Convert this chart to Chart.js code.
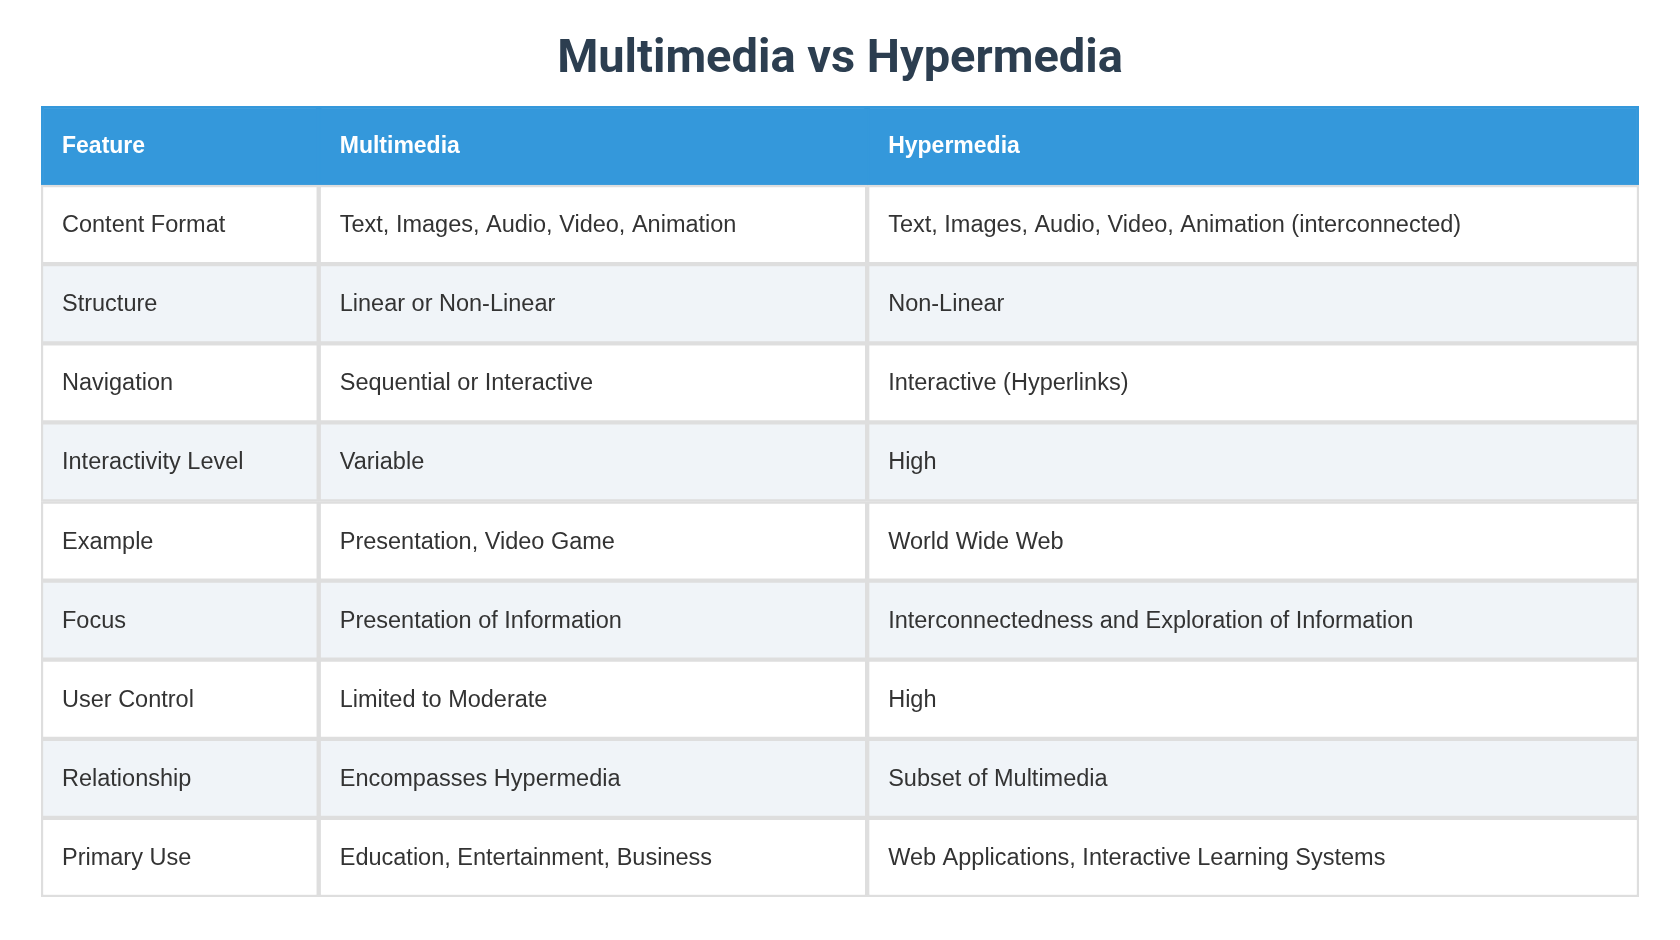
<!DOCTYPE html>
<html>
<head>
<meta charset="utf-8">
<script src="https://cdn.jsdelivr.net/npm/chart.js@4/dist/chart.umd.min.js"></script>
<style>
  html, body { margin: 0; padding: 0; background: #fff; }
  #wrap { width: 1680px; height: 940px; position: relative; }
</style>
</head>
<body>
<div id="wrap"><canvas id="tableChart"></canvas></div>
<script>
const chartTitle = "Multimedia vs Hypermedia";
const headers = ["Feature", "Multimedia", "Hypermedia"];
const features = ["Content Format", "Structure", "Navigation", "Interactivity Level", "Example", "Focus", "User Control", "Relationship", "Primary Use"];
const multimedia = ["Text, Images, Audio, Video, Animation", "Linear or Non-Linear", "Sequential or Interactive", "Variable", "Presentation, Video Game", "Presentation of Information", "Limited to Moderate", "Encompasses Hypermedia", "Education, Entertainment, Business"];
const hypermedia = ["Text, Images, Audio, Video, Animation (interconnected)", "Non-Linear", "Interactive (Hyperlinks)", "High", "World Wide Web", "Interconnectedness and Exploration of Information", "High", "Subset of Multimedia", "Web Applications, Interactive Learning Systems"];
// column edges on a 0..1 scale
const colEdges = [0, 0.1738, 0.5170, 1];

const rowLabels = ["header"].concat(features);
const columns = [features, multimedia, hypermedia];

function rowColor(i) {
  if (i === 0) return "#3498db";
  return i % 2 === 1 ? "#ffffff" : "#f0f4f8";
}

const datasets = headers.map((h, c) => ({
  label: h,
  data: rowLabels.map(() => [colEdges[c], colEdges[c + 1]]),
  backgroundColor: rowLabels.map((r, i) => rowColor(i)),
  borderColor: rowLabels.map((r, i) => i === 0 ? "#3498db" : "#dedede"),
  borderWidth: 2.5,
  borderSkipped: false,
  categoryPercentage: 1,
  barPercentage: 1
}));

const cellText = {
  id: "cellText",
  afterDatasetsDraw(chart) {
    const { ctx, scales: { x, y } } = chart;
    ctx.save();
    ctx.textBaseline = "middle";
    ctx.textAlign = "left";
    rowLabels.forEach((r, i) => {
      const py = y.getPixelForValue(i) + 1;
      for (let c = 0; c < 3; c++) {
        const px = x.getPixelForValue(colEdges[c]) + 21;
        if (i === 0) {
          ctx.font = "bold 23px Arial, 'Liberation Sans', sans-serif";
          ctx.fillStyle = "#ffffff";
          ctx.fillText(headers[c], px, py);
        } else {
          ctx.font = "23.5px Arial, 'Liberation Sans', sans-serif";
          ctx.fillStyle = "#333333";
          ctx.fillText(columns[c][i - 1], px, py);
        }
      }
    });
    ctx.font = "bold 47px Roboto, Arial, sans-serif";
    ctx.fillStyle = "#2c3e50";
    ctx.textAlign = "center";
    ctx.fillText(chartTitle, chart.width / 2, 60);
    ctx.restore();
  }
};

new Chart(document.getElementById("tableChart"), {
  type: "bar",
  data: { labels: rowLabels, datasets: datasets },
  options: {
    indexAxis: "y",
    responsive: true,
    maintainAspectRatio: false,
    animation: false,
    layout: { padding: { left: 41, right: 41, top: 106, bottom: 43 } },
    scales: {
      x: { type: "linear", min: 0, max: 1, stacked: false, display: false },
      y: { stacked: true, display: false, offset: true }
    },
    plugins: { legend: { display: false }, tooltip: { enabled: false } }
  },
  plugins: [cellText]
});
</script>
</body>
</html>
